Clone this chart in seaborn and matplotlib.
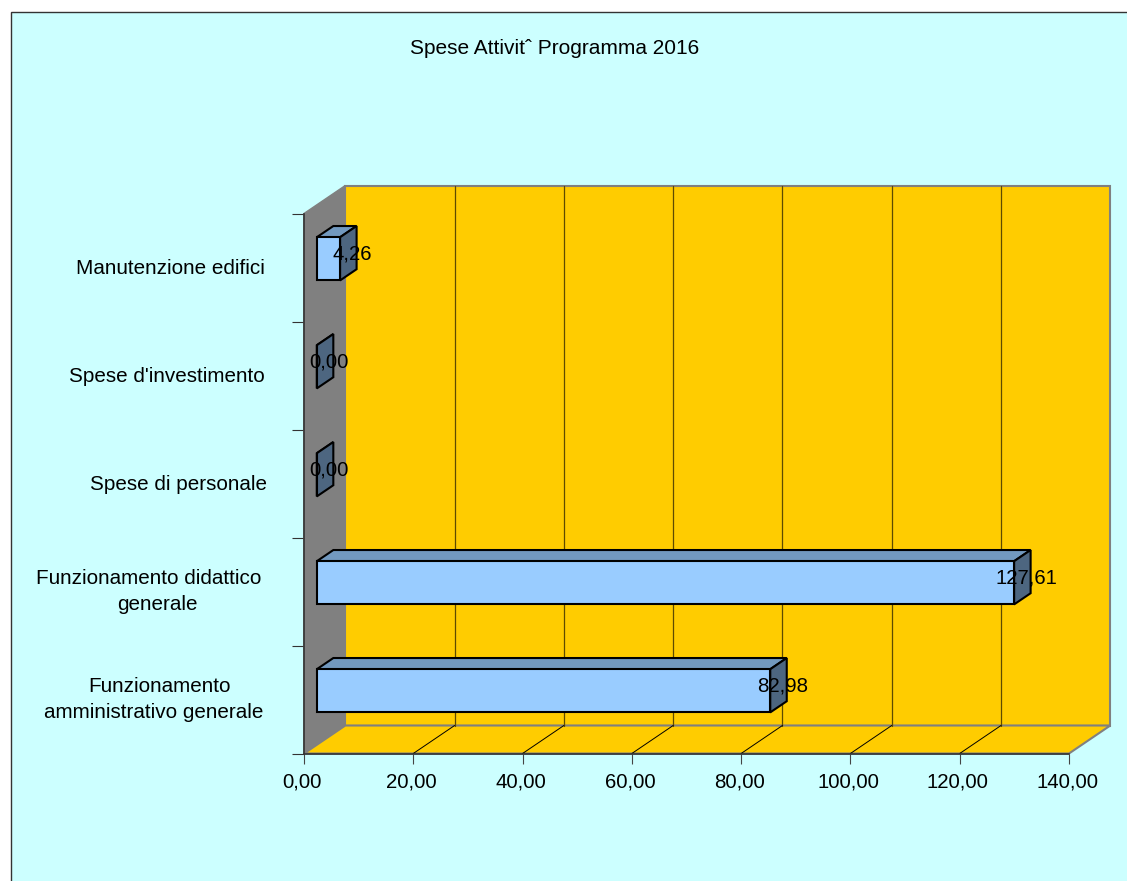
import matplotlib
matplotlib.use('Agg')
import pandas as pd
import seaborn as sns
from matplotlib import pyplot as plt
from matplotlib.patches import Rectangle
from matplotlib.transforms import Affine2D

# dati, dall'alto verso il basso
voci = ['Manutenzione edifici', "Spese d'investimento", 'Spese di personale',
        'Funzionamento didattico   \ngenerale', 'Funzionamento\namministrativo generale  ']
spese = [4.26, 0.00, 0.00, 127.61, 82.98]
etichette = ['4,26', '0,00', '0,00', '127,61', '82,98']
tick_valori = [0, 20, 40, 60, 80, 100, 120, 140]
tick_testi = ['0,00', '20,00', '40,00', '60,00', '80,00', '100,00', '120,00', '140,00']
titolo = 'Spese Attivit\u02c6 Programma 2016'

# piccoli spostamenti (pixel) delle etichette sull'asse y
sposta_voci = [(0, 1), (0, 1), (2, 1), (14, 5), (9.5, 5)]

W, H = 1127, 881
sns.set_theme(style='white')
plt.rcParams['font.family'] = ['Liberation Sans', 'DejaVu Sans']

CIANO = '#CCFFFF'
GIALLO = '#FFCC00'
GRIGIO = '#808080'
AZZURRO = '#99CCFF'
TOP = '#7299BF'
LATO = '#4D6680'

fig = plt.figure(figsize=(W / 100, H / 100), dpi=100, facecolor='white')
fig.add_artist(Rectangle((10.5 / W, -0.05), 1.1, 1.05 - 11.5 / H, transform=fig.transFigure,
                         facecolor=CIANO, edgecolor='#333333', lw=1, zorder=-1))

# piano frontale del grafico 3D
x0, x1, y0, y1 = 304, 1069, 213.5, 753.5
ax = fig.add_axes([x0 / W, 1 - y1 / H, (x1 - x0) / W, (y1 - y0) / H])
ax.patch.set_alpha(0)

df = pd.DataFrame({'voce': voci, 'spesa': spese})
sns.barplot(data=df, y='voce', x='spesa', orient='h', width=0.4, color=AZZURRO, saturation=1,
            edgecolor='black', linewidth=1.5, ax=ax, zorder=5, clip_on=False)
ax.set_xlim(0, 140)
ax.set_ylim(4.5, -0.5)

# profondita' in unita' dati
DX = 41.3 / ((x1 - x0) / 140)
DY = 28 / ((y1 - y0) / 5)


def p(x, y, d):
    return x + d * DX, y - d * DY


def faccia(punti, **kw):
    xs, ys = zip(*punti)
    ax.fill(xs, ys, clip_on=False, **kw)


xa, xb = ax.get_xlim()
yb, yt = ax.get_ylim()
faccia([p(xa, yb, 1), p(xb, yb, 1), p(xb, yt, 1), p(xa, yt, 1)],
       facecolor=GIALLO, edgecolor=GRIGIO, lw=1.5, zorder=1)
faccia([p(xa, yb, 0), p(xa, yb, 1), p(xa, yt, 1), p(xa, yt, 0)],
       facecolor=GRIGIO, edgecolor=GRIGIO, lw=1, zorder=1.2)
faccia([p(xa, yb, 0), p(xb, yb, 0), p(xb, yb, 1), p(xa, yb, 1)],
       facecolor=GIALLO, edgecolor=GRIGIO, lw=1.5, zorder=1.2)

for v in tick_valori[1:-1]:
    ax.plot(*zip(p(v, yb, 1), p(v, yt, 1)), color='#5E4B00', lw=0.9, zorder=1.5, clip_on=False)
    ax.plot(*zip(p(v, yb, 0), p(v, yb, 1)), color='black', lw=0.7, zorder=1.5, clip_on=False)

# sposta le barre di seaborn nella profondita' e aggiunge top e lato
D1, D2 = 0.31, 0.71
for i, bar in enumerate(ax.patches[:len(spese)]):
    bar.set_clip_on(False)
    xl, yl, w, h = bar.get_x(), bar.get_y(), bar.get_width(), bar.get_height()
    bar.set_x(xl + D1 * DX)
    bar.set_y(yl - D1 * DY)
    xr = xl + w
    ys, yi = yl, yl + h
    faccia([p(xl, ys, D1), p(xr, ys, D1), p(xr, ys, D2), p(xl, ys, D2)],
           facecolor=TOP, edgecolor='black', lw=1.5, zorder=4)
    faccia([p(xr, ys, D1), p(xr, ys, D2), p(xr, yi, D2), p(xr, yi, D1)],
           facecolor=LATO, edgecolor='black', lw=1.5, zorder=4)
    lx, ly = p(xr, i, 0.5)
    ax.text(lx + 0.75, ly - 0.018, etichette[i], ha='center', va='center_baseline', fontsize=14.7,
            color='black', zorder=6, clip_on=False)

# assi
ax.set_xlim(xa, xb)
ax.set_ylim(yb, yt)
ax.set_xlabel('')
ax.set_ylabel('')
for lato in ['top', 'right']:
    ax.spines[lato].set_visible(False)
for lato in ['left', 'bottom']:
    ax.spines[lato].set_color('#333333')
    ax.spines[lato].set_linewidth(1.2)
    ax.spines[lato].set_zorder(3)
ax.set_xticks(tick_valori, tick_testi, fontsize=14.7, color='black')
ax.tick_params(axis='x', length=7.5, width=0.8, color='#444444', pad=6, bottom=True)
for lab in ax.get_xticklabels():
    lab.set_transform(lab.get_transform() + Affine2D().translate(-2, 0))
ax.set_yticks(range(len(voci)), voci, fontsize=14.85, color='black', multialignment='center',
              linespacing=1.45)
ax.tick_params(axis='y', which='major', length=0, left=False)
ax.set_yticks([i - 0.5 for i in range(len(voci) + 1)], minor=True)
ax.tick_params(axis='y', which='minor', length=8.6, width=0.8, color='#333333', left=True)
for t in ax.yaxis.get_major_ticks():
    t.set_pad(28)
for lab, (dx, dy) in zip(ax.get_yticklabels(), sposta_voci):
    lab.set_transform(lab.get_transform() + Affine2D().translate(dx, dy))

fig.text(555 / W, 1 - 49 / H, titolo, ha='center', va='center', fontsize=15, color='black')

fig.savefig('out.png', dpi=100, facecolor='white')
